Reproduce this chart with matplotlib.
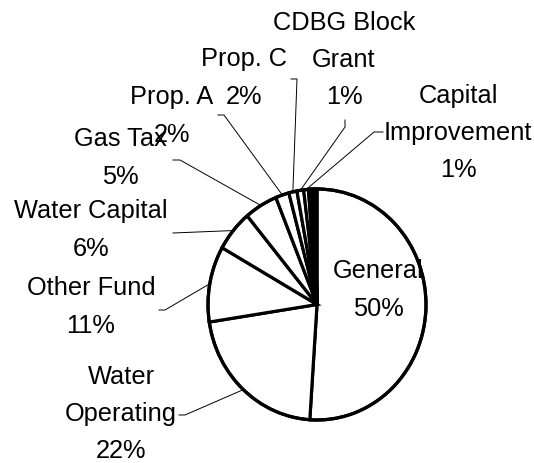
import numpy as np
import matplotlib
matplotlib.use("Agg")
import matplotlib.pyplot as plt
from matplotlib.patches import Ellipse

# Fund shares (percent of the pie)
funds = ["General", "Water Operating", "Other Fund", "Water Capital", "Gas Tax",
         "Prop. A", "Prop. C", "CDBG Block Grant", "Capital Improvement",
         "Misc 1", "Misc 2", "Misc 3"]
shares = [51.0, 21.5, 10.6, 5.75, 4.9, 2.0, 1.2, 1.0, 0.7, 0.45, 0.4, 0.4]
labels = ["General\n50%", "Water\nOperating\n22%", "Other Fund\n11%",
          "Water Capital\n6%", "Gas Tax\n5%", "Prop. A\n2%", "Prop. C\n2%",
          "CDBG Block\nGrant\n1%", "Capital\nImprovement\n1%", "", "", ""]

# layout: pie centre / radii in pixels of the 534x463 picture
CX, CY, RX, RY = 317, 304.5, 109, 115.5
W, H = 534, 463

def px(x, y):
    # pixel (from top-left) -> data coords of the pie axes
    return (x - CX) / RX, (CY - y) / RY

# text centres and leader-line start points (pixels)
label_pos = [(378, 290), (121, 414), (91, 307), (91, 230), (120, 158),
             (172, 116), (244, 78), (344, 60), (458, 133)]
leader_start = [None,
                [(179, 415), (185, 415)],
                [(159, 310), (165, 310)],
                [(173, 233)],
                [(173, 160), (180, 160)],
                [(218, 115), (224, 115)],
                [(291, 79), (297, 79)],
                [(345, 120), (345, 127)],
                [(383, 132), (374, 132)]]

plt.rcParams['font.family'] = ['Liberation Sans', 'DejaVu Sans']

fig = plt.figure(figsize=(W / 100, H / 100), dpi=100)
ax = fig.add_axes([(CX - 1.25 * RX) / W, (H - CY - 1.25 * RY) / H,
                   2.5 * RX / W, 2.5 * RY / H])

wedges, _ = ax.pie(shares, startangle=90, counterclock=False,
                   colors=["white"] * len(shares),
                   wedgeprops=dict(edgecolor="black", linewidth=2.3))
ax.set_aspect("auto")
ax.set_xlim(-1.25, 1.25)
ax.set_ylim(-1.25, 1.25)
ax.axis("off")

for i, (lab, pos) in enumerate(zip(labels, label_pos)):
    tx, ty = px(*pos)
    ax.text(tx, ty, lab, ha="center", va="center", fontsize=18.3,
            linespacing=1.7, zorder=4, clip_on=False)
    if leader_start[i] is None:
        continue
    w = wedges[i]
    mid = np.deg2rad((w.theta1 + w.theta2) / 2)
    pts = [px(*p) for p in leader_start[i]] + [(np.cos(mid), np.sin(mid))]
    xs, ys = zip(*pts)
    ax.plot(xs, ys, color="black", lw=0.7, zorder=1, clip_on=False)

# outline on top, so the inside label sits under the rim like the original
ax.add_patch(Ellipse((0, 0), 2, 2, fill=False, edgecolor="black",
                     linewidth=2.3, zorder=5))

fig.savefig("out.png", dpi=100)
